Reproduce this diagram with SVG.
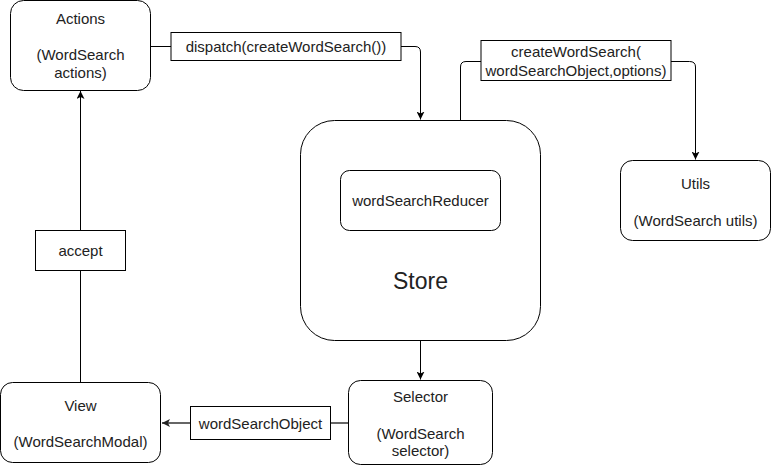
<svg xmlns="http://www.w3.org/2000/svg" width="771" height="466" viewBox="0 0 771 466">
<style>
.node{fill:#fff;stroke:#000;stroke-width:1}
.lbl{fill:#fff;stroke:#000;stroke-width:1}
.t{font-family:"Liberation Sans",Arial,sans-serif;font-size:15px;fill:#222;text-anchor:middle}
.big{font-size:23px}
.edge{fill:none;stroke:#000;stroke-width:1}
.grey{fill:none;stroke:#666;stroke-width:2}
</style>
<defs>
<marker id="arr" viewBox="0 0 8 8" refX="8" refY="4" markerWidth="8" markerHeight="8" markerUnits="userSpaceOnUse" orient="auto">
<path d="M0,0 L8,4 L0,8 L2,4 z" fill="#000"/>
</marker>
<marker id="arrg" viewBox="0 0 8 8" refX="8" refY="4" markerWidth="8" markerHeight="8" markerUnits="userSpaceOnUse" orient="auto">
<path d="M0,0 L8,4 L0,8 L2,4 z" fill="#222"/>
</marker>
</defs>
<rect width="771" height="466" fill="#fff"/>
<g id="connectors">
<path class="edge" d="M150.5,46.5 H171"/>
<path class="edge" d="M401,46.5 H415 Q420.5,46.5 420.5,52 V119.5" marker-end="url(#arr)"/>
<path class="edge" d="M460.5,170 V67 Q460.5,61.5 466,61.5 H481"/>
<path class="edge" d="M671,61.5 H689.5 Q695.5,61.5 695.5,67 V159.5" marker-end="url(#arr)"/>
<path class="edge" d="M80.5,382.5 V271"/>
<path class="edge" d="M80.5,230 V91" marker-end="url(#arr)"/>
<path class="edge" d="M420.5,341 V379.5" marker-end="url(#arr)"/>
<path class="grey" d="M348.5,423 H331"/>
<path class="grey" d="M190,423 H162" marker-end="url(#arrg)"/>
</g>
<g id="actions">
<rect class="node" x="10.5" y="0.5" width="140" height="90" rx="13"/>
<text class="t" x="80.5" y="24">Actions</text>
<text class="t" x="80.5" y="60">(WordSearch</text>
<text class="t" x="80.5" y="78">actions)</text>
</g>
<g id="dispatch-label">
<rect class="lbl" x="171" y="32.5" width="230" height="28"/>
<text class="t" x="286" y="51.5">dispatch(createWordSearch())</text>
</g>
<g id="store">
<rect class="node" x="300.5" y="120.5" width="240" height="220" rx="34"/>
<text class="t big" x="420.5" y="289">Store</text>
</g>
<g id="reducer">
<rect class="node" x="340.5" y="170.5" width="160" height="60" rx="9"/>
<text class="t" x="420.5" y="205.5">wordSearchReducer</text>
</g>
<g id="create-label">
<rect class="lbl" x="481" y="40.5" width="190" height="40"/>
<text class="t" x="576" y="57">createWordSearch(</text>
<text class="t" x="576" y="76">wordSearchObject,options)</text>
</g>
<g id="utils">
<rect class="node" x="620.5" y="160.5" width="150" height="80" rx="12"/>
<text class="t" x="695.5" y="188.5">Utils</text>
<text class="t" x="695.5" y="225.5">(WordSearch utils)</text>
</g>
<g id="accept-label">
<rect class="lbl" x="35.5" y="230.5" width="90" height="40"/>
<text class="t" x="80.5" y="255.5">accept</text>
</g>
<g id="view">
<rect class="node" x="0.5" y="382.5" width="160" height="80" rx="12"/>
<text class="t" x="80.5" y="410.5">View</text>
<text class="t" x="80.5" y="447">(WordSearchModal)</text>
</g>
<g id="selector">
<rect class="node" x="348.5" y="380.5" width="144" height="84" rx="12"/>
<text class="t" x="420.5" y="402">Selector</text>
<text class="t" x="420.5" y="438.5">(WordSearch</text>
<text class="t" x="420.5" y="455.5">selector)</text>
</g>
<g id="wso-label">
<rect class="lbl" x="190.5" y="406.5" width="140" height="33"/>
<text class="t" x="260.5" y="428.5">wordSearchObject</text>
</g>
</svg>
